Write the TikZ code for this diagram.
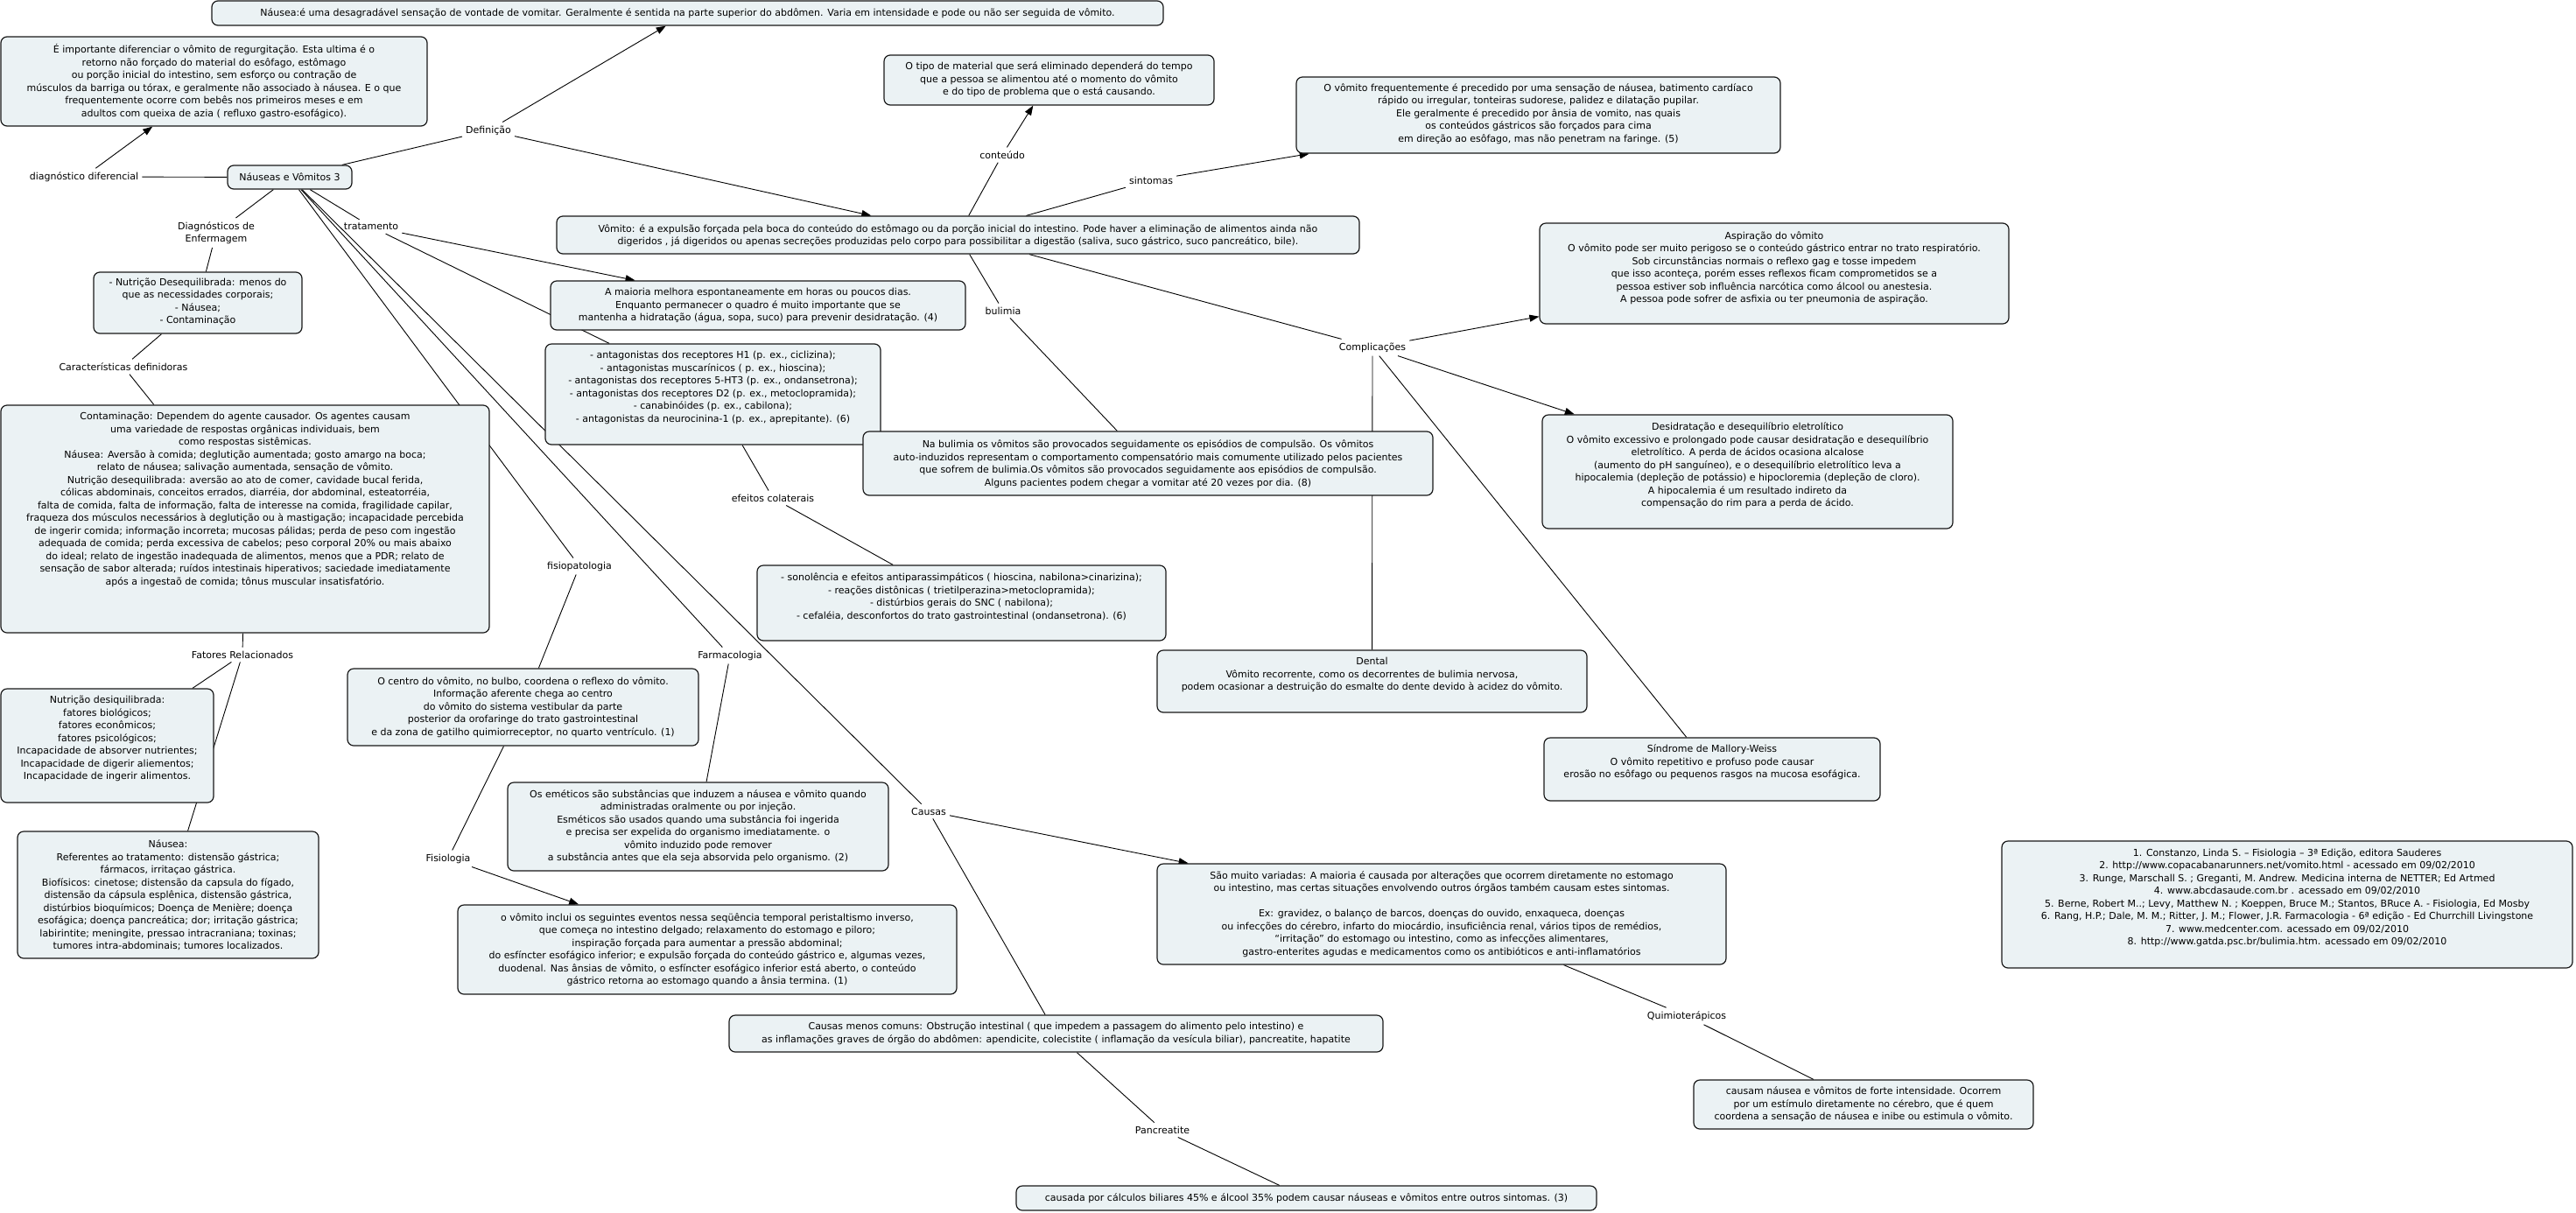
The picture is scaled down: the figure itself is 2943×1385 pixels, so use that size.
\documentclass[tikz,border=0pt]{standalone}
\usepackage{fontspec}
\setmainfont{DejaVu Sans}
\usetikzlibrary{fit,arrows.meta}
\pgfdeclarelayer{bg}
\pgfdeclarelayer{paper}
\pgfsetlayers{paper,bg,main}
\definecolor{boxfill}{RGB}{235,242,244}
\definecolor{edge}{RGB}{25,25,25}
\tikzset{
 cbox/.style={draw=edge, line width=1.2pt, fill=boxfill, rounded corners=7pt, inner sep=0pt},
 ctext/.style={align=center, inner sep=0pt, font=\fontsize{11}{14.5}\selectfont},
 lab/.style={align=center, inner sep=4pt, font=\fontsize{11}{14.5}\selectfont},
 conn/.style={draw=black, line width=0.9pt},
 arr/.style={-{Triangle[length=11pt,width=8pt]}},
}
\newcommand{\cmbox}[7]{%
 \node[cbox, fit={(#2,#3) (#4,#5)}] (#1) {};
 \node[ctext] (#1-t) at ({(#2+#4)/2},#6) {#7};
}
\begin{document}
\begin{tikzpicture}[x=1pt,y=-1pt]
\begin{pgfonlayer}{paper}
\fill[white] (0,0) rectangle (2943,1385);
\end{pgfonlayer}
\useasboundingbox (0,0) rectangle (2943,1385);

% ---- boxes ----
\cmbox{nauseaTop}{242}{1}{1329}{29}{15}{Náusea:é uma desagradável sensação de vontade de vomitar. Geralmente é sentida na parte superior do abdômen. Varia em intensidade e pode ou não ser seguida de vômito.}
\cmbox{importante}{1}{42}{488}{144}{93}{É importante diferenciar o vômito de regurgitação. Esta ultima é o\\retorno não forçado do material do esôfago, estômago\\ou porção inicial do intestino, sem esforço ou contração de\\músculos da barriga ou tórax, e geralmente não associado à náusea. E o que\\frequentemente ocorre com bebês nos primeiros meses e em\\adultos com queixa de azia ( refluxo gastro-esofágico).}
\cmbox{central}{260}{189}{402}{216}{202.5}{Náuseas e Vômitos 3}
\cmbox{tipoMaterial}{1010}{63}{1387}{120}{91}{O tipo de material que será eliminado dependerá do tempo\\que a pessoa se alimentou até o momento do vômito\\e do tipo de problema que o está causando.}
\cmbox{freq}{1481}{88}{2034}{175}{130}{O vômito frequentemente é precedido por uma sensação de náusea, batimento cardíaco\\rápido ou irregular, tonteiras sudorese, palidez e dilatação pupilar.\\Ele geralmente é precedido por ânsia de vomito, nas quais\\os conteúdos gástricos são forçados para cima\\em direção ao esôfago, mas não penetram na faringe. (5)}
\cmbox{vomito}{636}{247}{1553}{290}{269}{Vômito: é a expulsão forçada pela boca do conteúdo do estômago ou da porção inicial do intestino. Pode haver a eliminação de alimentos ainda não\\digeridos , já digeridos ou apenas secreções produzidas pelo corpo para possibilitar a digestão (saliva, suco gástrico, suco pancreático, bile).}
\cmbox{nutriDeseq}{107}{311}{345}{381}{345}{- Nutrição Desequilibrada: menos do\\que as necessidades corporais;\\- Náusea;\\- Contaminação}
\cmbox{maioria}{629}{321}{1103}{377}{349}{A maioria melhora espontaneamente em horas ou poucos dias.\\Enquanto permanecer  o quadro é muito importante que se\\mantenha a hidratação  (água, sopa, suco) para prevenir desidratação. (4)}
\cmbox{antagonistas}{623}{393}{1006}{508}{443}{- antagonistas dos receptores H1 (p. ex., ciclizina);\\- antagonistas muscarínicos ( p. ex., hioscina);\\- antagonistas dos receptores 5-HT3 (p. ex., ondansetrona);\\- antagonistas dos receptores D2 (p. ex., metoclopramida);\\- canabinóides (p. ex., cabilona);\\- antagonistas da neurocinina-1 (p. ex., aprepitante). (6)}
\cmbox{aspiracao}{1759}{255}{2295}{370}{306}{Aspiração do vômito\\O vômito pode ser muito perigoso se o conteúdo gástrico entrar no trato respiratório.\\Sob circunstâncias normais o reflexo gag e tosse impedem\\que isso aconteça, porém esses reflexos ficam comprometidos se a\\pessoa estiver sob influência narcótica como álcool ou anestesia.\\A pessoa pode sofrer de asfixia ou ter pneumonia de aspiração.}
\cmbox{contaminacao}{1}{463}{559}{723}{571}{Contaminação: Dependem do agente causador. Os agentes causam\\uma variedade de respostas orgânicas individuais, bem\\como respostas sistêmicas.\\Náusea: Aversão à comida; deglutição aumentada; gosto amargo na boca;\\relato de náusea; salivação aumentada, sensação de vômito.\\Nutrição desequilibrada: aversão ao ato de comer, cavidade bucal ferida,\\cólicas abdominais, conceitos errados, diarréia, dor abdominal, esteatorréia,\\falta de comida, falta de informação, falta de interesse na comida, fragilidade capilar,\\fraqueza dos músculos necessários à deglutição ou à mastigação; incapacidade percebida\\de ingerir comida; informação incorreta; mucosas pálidas; perda de peso com ingestão\\adequada de comida; perda excessiva de cabelos; peso corporal 20\% ou mais abaixo\\do ideal; relato de ingestão inadequada de alimentos, menos que a PDR; relato de\\sensação de sabor alterada; ruídos intestinais hiperativos; saciedade imediatamente\\após a ingestaõ de comida; tônus muscular insatisfatório.}
\cmbox{naBulimia}{986}{493}{1637}{566}{530}{Na bulimia os vômitos são provocados seguidamente  os episódios de compulsão. Os vômitos\\auto-induzidos representam  o comportamento compensatório mais comumente utilizado pelos pacientes\\que sofrem de bulimia.Os vômitos são provocados seguidamente  aos episódios de compulsão.\\Alguns pacientes podem chegar a vomitar até 20 vezes por dia. (8)}
\cmbox{desidratacao}{1762}{474}{2231}{604}{532}{Desidratação e desequilíbrio eletrolítico\\O vômito excessivo e prolongado pode causar desidratação e desequilíbrio\\eletrolítico. A perda de ácidos ocasiona alcalose\\(aumento do pH sanguíneo), e o desequilíbrio eletrolítico leva a\\hipocalemia (depleção de potássio) e hipocloremia (depleção de cloro).\\A hipocalemia é um resultado indireto da\\compensação do rim para a perda de ácido.}
\cmbox{sonolencia}{865}{646}{1332}{732}{682}{- sonolência e efeitos antiparassimpáticos ( hioscina, nabilona>cinarizina);\\- reações distônicas ( trietilperazina>metoclopramida);\\- distúrbios gerais do SNC ( nabilona);\\- cefaléia, desconfortos do trato gastrointestinal (ondansetrona). (6)}
\cmbox{dental}{1322}{743}{1813}{814}{771}{Dental\\Vômito recorrente, como os decorrentes de bulimia nervosa,\\podem ocasionar a destruição do esmalte do dente devido à acidez do vômito.}
\cmbox{nutriDesiq}{1}{787}{244}{917}{844}{Nutrição desiquilibrada:\\fatores biológicos;\\fatores econômicos;\\fatores psicológicos;\\Incapacidade de absorver nutrientes;\\Incapacidade de digerir aliementos;\\Incapacidade de ingerir alimentos.}
\cmbox{centro}{397}{764}{798}{852}{808}{O centro do vômito, no bulbo, coordena o reflexo do vômito.\\Informação aferente chega ao centro\\do vômito do sistema vestibular da parte\\posterior da orofaringe do trato gastrointestinal\\e da zona de gatilho  quimiorreceptor, no quarto ventrículo. (1)}
\cmbox{sindrome}{1764}{843}{2148}{915}{871}{Síndrome de Mallory-Weiss\\O vômito repetitivo e profuso pode causar\\erosão no esôfago ou pequenos rasgos na mucosa esofágica.}
\cmbox{nauseaBox}{20}{950}{364}{1095}{1023}{Náusea:\\Referentes ao tratamento: distensão gástrica;\\fármacos, irritaçao gástrica.\\Biofísicos: cinetose; distensão da capsula do fígado,\\distensão da cápsula esplênica, distensão gástrica,\\distúrbios bioquímicos; Doença de Menière; doença\\esofágica; doença pancreática; dor; irritação gástrica;\\labirintite; meningite, pressao intracraniana; toxinas;\\tumores intra-abdominais; tumores localizados.}
\cmbox{emeticos}{580}{894}{1015}{995}{944}{Os eméticos são substâncias que induzem a náusea e vômito quando\\administradas oralmente ou por injeção.\\Esméticos são usados quando uma substância foi ingerida\\e precisa ser expelida do organismo imediatamente. o\\vômito induzido pode remover\\a substância  antes que ela seja absorvida pelo organismo. (2)}
\cmbox{vomitoInclui}{523}{1034}{1093}{1136}{1085}{o vômito inclui os seguintes eventos nessa seqüência temporal peristaltismo inverso,\\que começa no intestino delgado;  relaxamento do estomago e piloro;\\inspiração forçada para aumentar a pressão abdominal;\\do esfíncter esofágico inferior;  e expulsão forçada do conteúdo gástrico e, algumas vezes,\\duodenal. Nas ânsias de vômito,  o esfíncter esofágico inferior está aberto, o conteúdo\\gástrico retorna ao estomago quando a ânsia termina. (1)}
\cmbox{saoMuito}{1322}{987}{1972}{1102}{1044.5}{São muito variadas: A maioria é causada por alterações que ocorrem diretamente no estomago\\ou intestino, mas certas situações envolvendo outros órgãos também causam estes sintomas.\\[14.5pt]Ex: gravidez, o balanço de barcos, doenças do ouvido, enxaqueca, doenças\\ou infecções do cérebro, infarto do miocárdio, insuficiência renal, vários tipos de remédios,\\“irritação” do estomago ou intestino, como as infecções alimentares,\\gastro-enterites agudas e medicamentos como os antibióticos e anti-inflamatórios}
\cmbox{references}{2287}{961}{2939}{1106}{1026}{1. Constanzo, Linda S. – Fisiologia – 3ª Edição, editora Sauderes\\2. http://www.copacabanarunners.net/vomito.html - acessado em 09/02/2010\\3. Runge, Marschall S. ; Greganti, M. Andrew. Medicina interna de NETTER; Ed Artmed\\4. www.abcdasaude.com.br . acessado em 09/02/2010\\5. Berne, Robert M..; Levy, Matthew N. ; Koeppen, Bruce M.; Stantos, BRuce A. - Fisiologia, Ed Mosby\\6. Rang, H.P.; Dale, M. M.; Ritter, J. M.; Flower, J.R. Farmacologia - 6ª edição - Ed Churrchill Livingstone\\7. www.medcenter.com. acessado em 09/02/2010\\8. http://www.gatda.psc.br/bulimia.htm. acessado em 09/02/2010}
\cmbox{causasMenos}{833}{1160}{1580}{1202}{1181}{Causas menos comuns: Obstrução intestinal ( que impedem a passagem do alimento pelo intestino) e\\as inflamações graves de órgão do abdômen: apendicite, colecistite ( inflamação da vesícula biliar), pancreatite, hapatite}
\cmbox{causam}{1935}{1234}{2323}{1290}{1262}{causam náusea e vômitos de forte intensidade. Ocorrem\\por um estímulo diretamente no cérebro, que é quem\\coordena a sensação de náusea e inibe ou estimula o vômito.}
\cmbox{causada}{1161}{1355}{1824}{1383}{1369}{causada por cálculos biliares 45\% e álcool 35\% podem causar náuseas e vômitos entre outros sintomas. (3)}

% ---- labels ----
\node[lab] (diagdif) at (96,202) {diagnóstico diferencial};
\node[lab] (definicao) at (558,149) {Definição};
\node[lab] (conteudo) at (1145,177) {conteúdo};
\node[lab] (sintomas) at (1315,206) {sintomas};
\node[lab] (tratamento) at (424,259) {tratamento};
\node[lab] (diagEnf) at (247,266) {Diagnósticos de\\Enfermagem};
\node[lab] (bulimia) at (1146,355) {bulimia};
\node[lab] (complicacoes) at (1568,397) {Complicações};
\node[lab] (caracDef) at (141,419) {Características definidoras};
\node[lab] (efeitos) at (883,569) {efeitos colaterais};
\node[lab] (fisiopat) at (662,647) {fisiopatologia};
\node[lab] (fatores) at (277,748) {Fatores Relacionados};
\node[lab] (farmaco) at (834,749) {Farmacologia};
\node[lab] (causas) at (1061,927) {Causas};
\node[lab] (fisiologia) at (512,981) {Fisiologia};
\node[lab] (quimio) at (1927,1161) {Quimioterápicos};
\node[lab] (pancreatite) at (1328,1291) {Pancreatite};

% ---- connectors ----
\begin{pgfonlayer}{bg}
\draw[conn] (central) -- (diagdif);
\draw[conn,arr] (diagdif) -- (importante);
\draw[conn] (central) -- (definicao);
\draw[conn,arr] (definicao) -- (nauseaTop);
\draw[conn,arr] (definicao) -- (vomito);
\draw[conn] (central) -- (diagEnf);
\draw[conn] (diagEnf) -- (nutriDeseq);
\draw[conn] (nutriDeseq) -- (caracDef);
\draw[conn] (caracDef) -- (contaminacao);
\draw[conn] (contaminacao) -- (fatores);
\draw[conn] (fatores) -- (nutriDesiq);
\draw[conn] (fatores) -- (nauseaBox);
\draw[conn] (central) -- (tratamento);
\draw[conn,arr] (tratamento) -- (maioria);
\draw[conn] (tratamento) -- (antagonistas);
\draw[conn] (antagonistas) -- (efeitos);
\draw[conn] (efeitos) -- (sonolencia);
\draw[conn] (central) -- (fisiopat);
\draw[conn] (fisiopat) -- (centro);
\draw[conn] (centro) -- (fisiologia);
\draw[conn,arr] (fisiologia) -- (vomitoInclui);
\draw[conn] (central) -- (farmaco);
\draw[conn] (farmaco) -- (emeticos);
\draw[conn] (central) -- (causas);
\draw[conn,arr] (causas) -- (saoMuito);
\draw[conn] (causas) -- (causasMenos);
\draw[conn] (causasMenos) -- (pancreatite);
\draw[conn] (pancreatite) -- (causada);
\draw[conn] (saoMuito) -- (quimio);
\draw[conn] (quimio) -- (causam);
\draw[conn] (vomito) -- (conteudo);
\draw[conn,arr] (conteudo) -- (tipoMaterial);
\draw[conn] (vomito) -- (sintomas);
\draw[conn,arr] (sintomas) -- (freq);
\draw[conn] (vomito) -- (bulimia);
\draw[conn] (bulimia) -- (naBulimia);
\draw[conn] (vomito) -- (complicacoes);
\draw[conn,arr] (complicacoes) -- (aspiracao);
\draw[conn,arr] (complicacoes) -- (desidratacao);
\draw[conn] (complicacoes) -- (dental);
\draw[conn] (complicacoes) -- (sindrome);
\end{pgfonlayer}
\end{tikzpicture}
\end{document}
